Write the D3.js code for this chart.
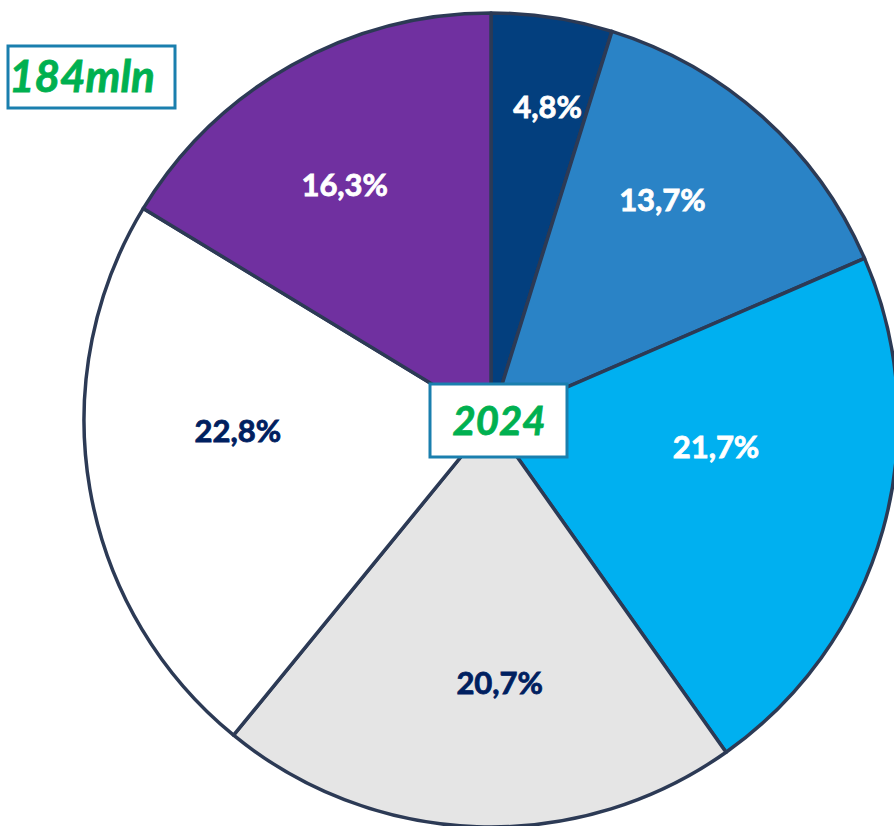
<!DOCTYPE html>
<html>
<head>
<meta charset="utf-8">
<script src="https://cdn.jsdelivr.net/npm/d3@7"></script>
<style>
    html, body { margin: 0; padding: 0; background: #ffffff; }
    svg { display: block; }
</style>
</head>
<body>
<div id="pie-chart"></div>
<script>
const shares = [4.8, 13.7, 21.7, 20.7, 22.8, 16.3];
const sliceColors = ["#033f7e", "#2a83c6", "#00b0f0", "#e5e5e5", "#ffffff", "#7030a0"];
const labelColors = ["#ffffff", "#ffffff", "#ffffff", "#002060", "#002060", "#ffffff"];
const totalLabel = "184mln";
const yearLabel = "2024";

// small hand tweaks so the labels sit where the original put them
const labelNudge = [[16, -46], [-9, -19], [-35, -46], [18, -7], [13, -35], [-14, 0]];

const drawPieChart = () => {

    const width = 894;
    const height = 826;
    const cx = 491;
    const cy = 420;
    const radius = 407;

    const svg = d3.select("#pie-chart")
        .append("svg")
        .attr("width", width)
        .attr("height", height)
        .attr("viewBox", `0, 0, ${width}, ${height}`);

    const pieChart = svg
        .append("g")
        .attr("transform", `translate(${cx}, ${cy})`);

    const pie = d3.pie()
        .sort(null)
        .value(d => d);

    const arcs = pie(shares);

    const arcGenerator = d3.arc()
        .innerRadius(0)
        .outerRadius(radius);

    const labelArc = d3.arc()
        .innerRadius(270)
        .outerRadius(270);

    pieChart
        .selectAll("path")
        .data(arcs)
        .join("path")
            .attr("d", arcGenerator)
            .attr("fill", (d, i) => sliceColors[i])
            .attr("stroke", "#2c3a55")
            .attr("stroke-width", 3.5)
            .attr("stroke-linejoin", "round");

    pieChart
        .selectAll(".slice-label")
        .data(arcs)
        .join("text")
            .attr("class", "slice-label")
            .text(d => `${d3.format(".1f")(d.data).replace(".", ",")}%`)
            .attr("x", (d, i) => labelArc.centroid(d)[0] + labelNudge[i][0])
            .attr("y", (d, i) => labelArc.centroid(d)[1] + labelNudge[i][1])
            .attr("dy", "0.36em")
            .attr("text-anchor", "middle")
            .attr("fill", (d, i) => labelColors[i])
            .attr("stroke", (d, i) => labelColors[i])
            .attr("stroke-width", 0.8)
            .style("font-family", "Lato, sans-serif")
            .style("font-weight", "bold")
            .style("font-size", "31px");

    // year box in the middle
    pieChart
        .append("rect")
        .attr("x", 430 - cx)
        .attr("y", 384 - cy)
        .attr("width", 137)
        .attr("height", 73)
        .attr("fill", "#ffffff")
        .attr("stroke", "#1a7fae")
        .attr("stroke-width", 3);

    pieChart
        .append("text")
        .text(yearLabel)
        .attr("x", 499 - cx)
        .attr("y", 421 - cy)
        .attr("dy", "0.36em")
        .attr("text-anchor", "middle")
        .attr("fill", "#00b050")
        .attr("stroke", "#00b050")
        .attr("stroke-width", 0.8)
        .style("font-family", "Lato, sans-serif")
        .style("font-weight", "bold")
        .style("font-style", "italic")
        .style("font-size", "40px");

    // total box, top left
    svg
        .append("rect")
        .attr("x", 8)
        .attr("y", 46)
        .attr("width", 167)
        .attr("height", 62)
        .attr("fill", "#ffffff")
        .attr("stroke", "#1a7fae")
        .attr("stroke-width", 3);

    svg
        .append("text")
        .text(totalLabel)
        .attr("x", 9)
        .attr("y", 92)
        .attr("fill", "#00b050")
        .attr("stroke", "#00b050")
        .attr("stroke-width", 0.8)
        .style("font-family", "Lato, sans-serif")
        .style("font-weight", "bold")
        .style("font-style", "italic")
        .style("font-size", "44px");
}

drawPieChart();
</script>
</body>
</html>
